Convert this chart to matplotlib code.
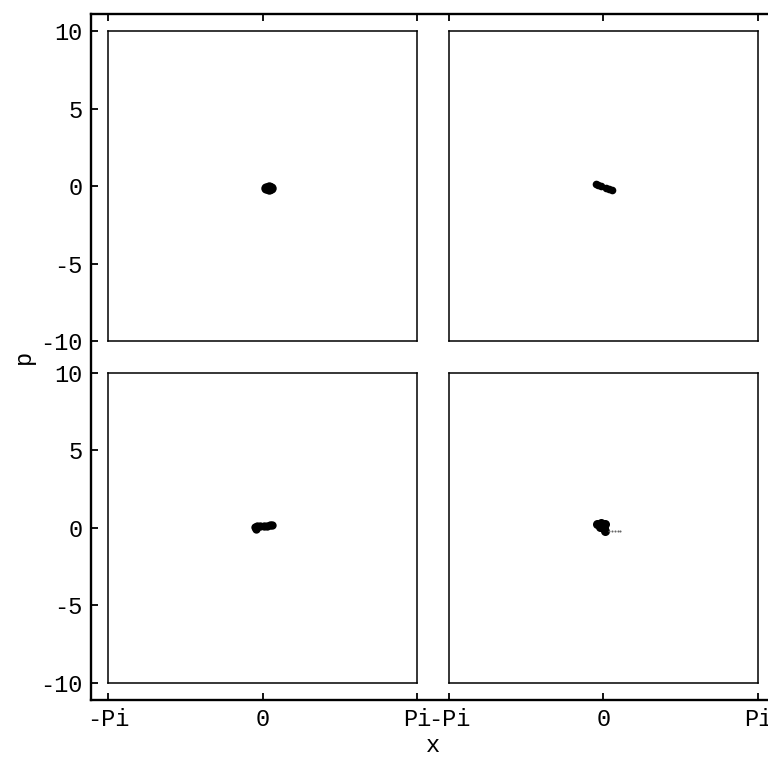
import numpy as np
import matplotlib.pyplot as plt

plt.rcParams['font.family'] = ['Liberation Mono', 'DejaVu Sans Mono']

# range of every panel
xmin, xmax = -np.pi, np.pi
pmin, pmax = -10.0, 10.0

# shape of the cloud in each panel (x, p)
tl_x = [0.06, 0.12, 0.18, 0.12]
tl_p = [-0.10, -0.02, -0.10, -0.18]
tr_x = [-0.16, -0.10, -0.04, 0.06, 0.12, 0.17]
tr_p = [0.12, 0.09, 0.04, -0.10, -0.17, -0.22]
bl_x = [-0.16, -0.11, -0.05, 0.02, 0.09, 0.15, 0.19, -0.14]
bl_p = [0.05, 0.08, 0.10, 0.12, 0.14, 0.16, 0.18, -0.08]
br_x = [-0.12, -0.05, 0.03, -0.06, 0.01, 0.04]
br_p = [0.27, 0.28, 0.24, 0.06, -0.04, -0.18]
br_tail_x = [0.12, 0.17, 0.24, 0.30, 0.34]
br_tail_p = [-0.18, -0.22, -0.23, -0.23, -0.22]

xtick_labels = ['-Pi', '0', 'Pi']
ptick_vals = [10, 5, 0, -5, -10]

# gaps between the boxes and round the outer frame, in data units
mx, gx = 0.35, 0.65
my, gy = 1.1, 2.0
ox = (xmax - xmin) + gx
oy = (pmax - pmin) + gy

fig = plt.figure(figsize=(7.68, 7.62), dpi=100)
ax = fig.add_axes([91 / 768, 62 / 762, 684 / 768, 686 / 762])
ax.set_xlim(xmin - mx, xmax + ox + mx)
ax.set_ylim(pmin - oy - my, pmax + my)

xt = [xmin, 0, xmax]
ax.set_xticks(xt + [v + ox for v in xt])
ax.set_xticklabels(xtick_labels * 2)
ax.set_yticks(ptick_vals + [v - oy for v in ptick_vals])
ax.set_yticklabels([str(v) for v in ptick_vals] * 2)
ax.tick_params(direction='in', length=5, width=1.3, top=True, right=True,
               labelsize=17, pad=6)
for s in ax.spines.values():
    s.set_linewidth(1.7)
ax.set_xlabel('x', fontsize=17, labelpad=2)
ax.set_ylabel('p', fontsize=17, labelpad=4)

clouds = [(tl_x, tl_p, 7.5), (tr_x, tr_p, 5.5), (bl_x, bl_p, 6), (br_x, br_p, 6.5)]
for i, (cx, cp, ms) in enumerate(clouds):
    col, row = i % 2, i // 2
    sub = ax.inset_axes([xmin + col * ox, pmin - row * oy, xmax - xmin, pmax - pmin],
                        transform=ax.transData)
    sub.set_xlim(xmin, xmax)
    sub.set_ylim(pmin, pmax)
    sub.set_xticks([])
    sub.set_yticks([])
    for s in sub.spines.values():
        s.set_linewidth(1.1)
    sub.plot(cx, cp, 'o', color='black', ms=ms, mew=0)
    if i == 3:
        sub.plot(br_tail_x, br_tail_p, 'o', color='0.4', ms=1.5, mew=0)

fig.savefig('out.png', dpi=100)
